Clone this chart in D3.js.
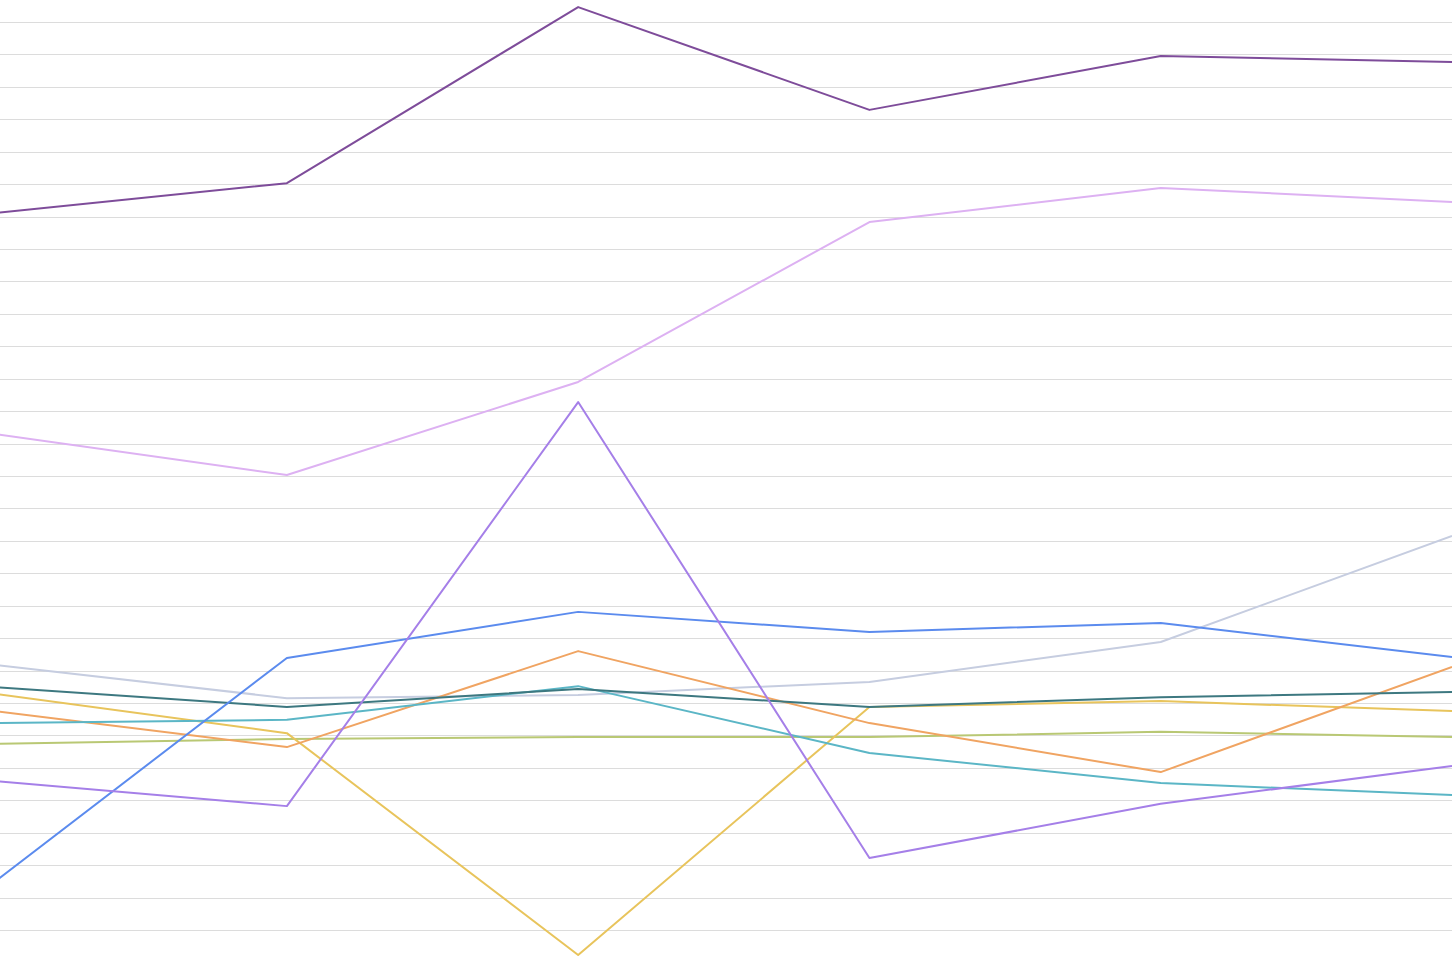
<!DOCTYPE html>
<html>
<head>
<meta charset="utf-8">
<script src="https://cdn.jsdelivr.net/npm/d3@7"></script>
<style>
  html, body { margin: 0; padding: 0; background: #ffffff; overflow: hidden; }
  svg { display: block; }
</style>
</head>
<body>
<div id="chart"></div>
<script>
// Categories (six points along the x axis)
const categories = ["P1", "P2", "P3", "P4", "P5", "P6"];

// Gridline tick values
const tickValues = d3.range(0, 281, 10);

// Series values
const seriesDarkPurple = [221.1, 230.3, 284.6, 252.9, 269.5, 267.7];
const seriesLavender   = [152.9, 140.3, 169.0, 218.3, 228.8, 224.5];
const seriesPurple     = [45.9, 38.2, 162.8, 22.2, 38.9, 50.6];
const seriesBlue       = [15.1, 83.9, 98.1, 91.9, 94.7, 84.2];
const seriesGrayBlue   = [81.7, 71.5, 72.5, 76.5, 88.8, 121.5];
const seriesOrange     = [67.5, 56.4, 86.0, 63.8, 48.7, 81.1];
const seriesTeal       = [74.9, 68.8, 74.3, 68.8, 71.8, 73.4];
const seriesCyan       = [63.8, 64.8, 75.2, 54.6, 45.3, 41.6];
const seriesYellow     = [72.8, 60.7, -7.7, 68.8, 70.6, 67.5];
const seriesGreen      = [57.4, 58.9, 59.5, 59.5, 61.1, 59.5];

const series = [
  { name: "Gray blue",   values: seriesGrayBlue,   color: "#c6cde0" },
  { name: "Green",       values: seriesGreen,      color: "#b9c874" },
  { name: "Yellow",      values: seriesYellow,     color: "#e8c45c" },
  { name: "Orange",      values: seriesOrange,     color: "#f0a462" },
  { name: "Cyan",        values: seriesCyan,       color: "#5bb6c6" },
  { name: "Teal",        values: seriesTeal,       color: "#3d7880" },
  { name: "Blue",        values: seriesBlue,       color: "#5b8bee" },
  { name: "Purple",      values: seriesPurple,     color: "#a57fe8" },
  { name: "Lavender",    values: seriesLavender,   color: "#ddb1f2" },
  { name: "Dark purple", values: seriesDarkPurple, color: "#7e4c9a" }
];

const W = 1452, H = 958;
const svg = d3.select("#chart").append("svg")
  .attr("width", W).attr("height", H);

const x = d3.scalePoint().domain(categories).range([-4.4, 1452]);
const y = d3.scaleLinear().domain([0, 280]).range([930, 22]);

// Horizontal gridlines via a left axis with full-width ticks
const grid = svg.append("g")
  .attr("class", "grid")
  .call(d3.axisLeft(y).tickValues(tickValues).tickSize(-W).tickFormat(""));
grid.select(".domain").remove();
grid.selectAll(".tick line")
  .attr("stroke", "#dcdcdc")
  .attr("stroke-width", 1)
  .attr("shape-rendering", "crispEdges");

const line = d3.line()
  .x((d, i) => x(categories[i]))
  .y(d => y(d));

svg.append("g").selectAll("path")
  .data(series)
  .join("path")
  .attr("d", d => line(d.values))
  .attr("fill", "none")
  .attr("stroke", d => d.color)
  .attr("stroke-width", 2)
  .attr("stroke-linejoin", "round");
</script>
</body>
</html>
